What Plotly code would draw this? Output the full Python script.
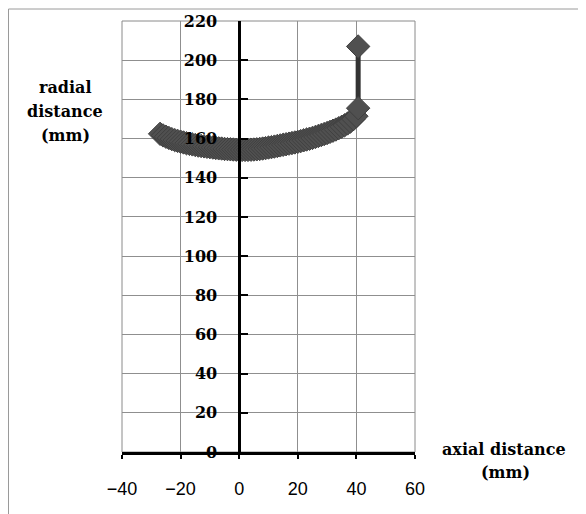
import plotly.graph_objects as go

# values (mm)
axial = [-27, -26, -25, -24, -23, -22, -21, -20, -19, -18, -17, -16, -15, -14, -13,
         -12, -11, -10, -9, -8, -7, -6, -5, -4, -3, -2, -1, 0, 1, 2, 3, 4, 5, 6, 7,
         8, 9, 10, 11, 12, 13, 14, 15, 16, 17, 18, 19, 20, 21, 22, 23, 24, 25, 26,
         27, 28, 29, 30, 31, 32, 33, 34, 35, 36, 37, 38, 39, 40, 40.6, 40.6]
radial = [162.4, 161.6, 160.9, 160.3, 159.7, 159.2, 158.8, 158.4, 158.0, 157.6,
          157.3, 157.0, 156.7, 156.4, 156.2, 156.0, 155.8, 155.6, 155.4, 155.2,
          155.0, 154.9, 154.7, 154.6, 154.5, 154.4, 154.3, 154.2, 154.2, 154.2,
          154.2, 154.3, 154.4, 154.5, 154.7, 154.9, 155.1, 155.4, 155.6, 155.9,
          156.2, 156.5, 156.8, 157.1, 157.4, 157.7, 158.0, 158.3, 158.7, 159.1,
          159.5, 159.9, 160.3, 160.8, 161.3, 161.8, 162.3, 162.8, 163.4, 164.0,
          164.6, 165.3, 166.0, 166.8, 167.7, 168.7, 169.9, 171.4, 175.5, 207.0]

x_ticks = [-40, -20, 0, 20, 40, 60]
y_ticks = [0, 20, 40, 60, 80, 100, 120, 140, 160, 180, 200, 220]

# the page puts the figure 8px in from the window corner, so work in figure pixels
OFF = 8
W, H = 586, 514
L, T = 122 - OFF, 21 - OFF
pw, ph = 293, 431
R, B = W - L - pw, H - T - ph


def px(x):
    return (x - OFF - L) / pw


def py(y):
    return (T + ph - (y - OFF)) / ph


serif = dict(family="DejaVu Serif", size=16, color="black", weight="bold")

fig = go.Figure()
fig.add_trace(go.Scatter(
    x=axial, y=radial, mode="lines+markers",
    line=dict(color="#333333", width=5),
    marker=dict(symbol="diamond", size=18, color="#505050",
                line=dict(color="#404040", width=1)),
    showlegend=False, cliponaxis=False))

fig.update_xaxes(range=[-40, 60], tickvals=x_ticks, showgrid=True, gridcolor="#8f8f8f",
                 gridwidth=1, zeroline=False, showline=True, linecolor="black",
                 linewidth=2.5, ticks="outside", ticklen=4, tickwidth=2,
                 tickcolor="black", ticklabelstandoff=15, automargin=False,
                 tickfont=dict(family="Liberation Sans", size=18, color="black"))
fig.update_yaxes(range=[0, 220], tickvals=y_ticks, anchor="free", position=0.4,
                 showgrid=True, gridcolor="#8f8f8f", gridwidth=1, zeroline=False,
                 showline=True, linecolor="black", linewidth=2.5, ticks="inside",
                 ticklen=7, tickwidth=2, tickcolor="black", ticklabelstandoff=18,
                 automargin=False, tickfont=serif)

# grey frame round the plot area
fig.add_shape(type="rect", xref="x domain", yref="y domain", x0=0, x1=1, y0=0, y1=1,
              line=dict(color="#8a8a8a", width=1), layer="below")
# outer border of the scanned figure (left and top edges)
fig.add_shape(type="line", xref="paper", yref="paper", x0=px(8.5), x1=px(8.5),
              y0=py(9), y1=py(H + 20), line=dict(color="#9a9a9a", width=1))
fig.add_shape(type="line", xref="paper", yref="paper", x0=px(8.5), x1=px(W + 20),
              y0=py(9), y1=py(9), line=dict(color="#9a9a9a", width=1))

for text, cx, cy in [("radial", 65, 88), ("distance", 65, 111), ("(mm)", 65, 135),
                     ("axial distance", 504, 449), ("(mm)", 505, 472)]:
    fig.add_annotation(text=text, x=px(cx), y=py(cy), xref="paper", yref="paper",
                       showarrow=False, xanchor="center", yanchor="middle", font=serif)

fig.update_layout(width=W, height=H, margin=dict(l=L, r=R, t=T, b=B),
                  plot_bgcolor="white", paper_bgcolor="white")

fig.write_html("out.html")
